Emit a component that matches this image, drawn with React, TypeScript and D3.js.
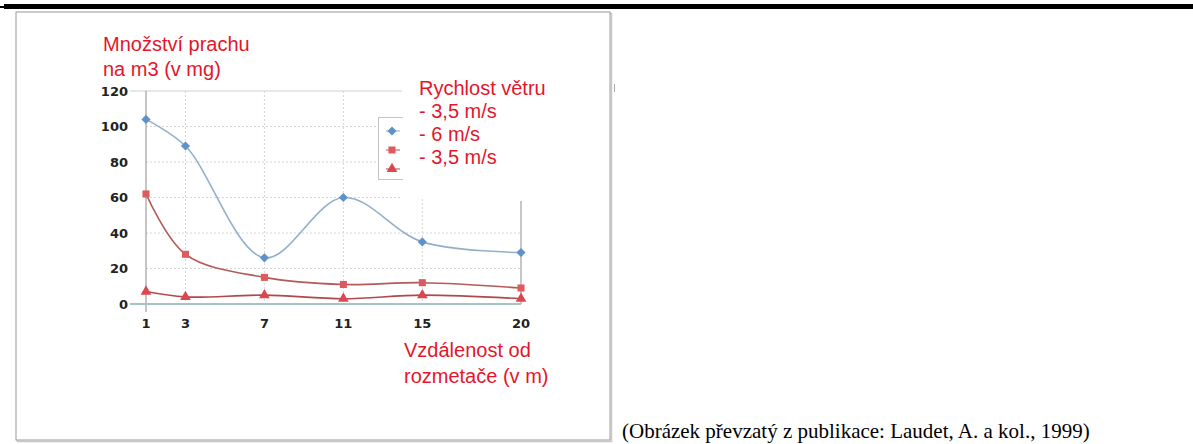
import React from 'react';
import * as d3 from 'd3';

// distances from the spreader (m) and dust amount (mg per m3)
const distances = [1, 3, 7, 11, 15, 20];
const dustBlue = [104, 89, 26, 60, 35, 29];
const dustSquare = [62, 28, 15, 11, 12, 9];
const dustTriangle = [7, 4, 5, 3, 5, 3];
const yTicks = [0, 20, 40, 60, 80, 100, 120];
const legendLines = ['Rychlost větru', '- 3,5 m/s', '- 6 m/s', '- 3,5 m/s'];
const yTitle = ['Množství prachu', 'na m3 (v mg)'];
const xTitle = ['Vzdálenost od', 'rozmetače (v m)'];
const caption = '(Obrázek převzatý z publikace: Laudet, A. a kol., 1999)';

const RED = '#e3162b';
const FONT = '"Liberation Sans", Arial, sans-serif';
const TICK_FONT = '"DejaVu Sans", Verdana, sans-serif';

function App() {
  const x = d3.scaleLinear().domain([1, 20]).range([146, 521]);
  const y = d3.scaleLinear().domain([0, 120]).range([304, 91]);

  const line = d3
    .line<number>()
    .x((_, i) => x(distances[i]))
    .y((d) => y(d))
    .curve(d3.curveCatmullRom.alpha(0.5));

  // diamond = square turned by 45 degrees
  const diamond = d3.symbol(d3.symbolSquare, 42)();
  const square = d3.symbol(d3.symbolSquare, 50)();
  const triangle = d3.symbol(d3.symbolTriangle, 50)();

  const series = [
    { values: dustBlue, stroke: '#93afcc', fill: '#5f92c8', shape: diamond, rot: 45 },
    { values: dustSquare, stroke: '#b45a58', fill: '#dd5a5e', shape: square, rot: 0 },
    { values: dustTriangle, stroke: '#b2484c', fill: '#dc4650', shape: triangle, rot: 0 },
  ];

  return (
    <svg width={1193} height={444} style={{ position: 'absolute', left: 0, top: 0, background: '#fff' }}>
      {/* page rule */}
      <rect x={4} y={4} width={1189} height={5} fill="#000" />
      <rect x={0} y={6} width={4} height={2} fill="#000" />

      {/* picture frame */}
      <rect x={17.5} y={13.5} width={594} height={428} fill="none" stroke="#c8c8c8" strokeWidth={1.5} />
      <rect x={16} y={12} width={594} height={428} fill="#fff" stroke="#9a9a9a" strokeWidth={1} />
      <line x1={614.5} x2={614.5} y1={84} y2={92} stroke="#aaa" />

      {/* grid */}
      {yTicks.slice(1, -1).map((t) => (
        <line key={'gy' + t} x1={x(1)} x2={t >= 60 ? 402 : x(20)} y1={y(t)} y2={y(t)}
          stroke="#d6d6d6" strokeDasharray="2,2" />
      ))}
      <line x1={130} x2={402} y1={y(120)} y2={y(120)} stroke="#cfcfcf" />
      {distances.slice(1, -1).map((d) => (
        <line key={'gx' + d} x1={x(d)} x2={x(d)} y1={y(120)} y2={y(0)}
          stroke="#d6d6d6" strokeDasharray="2,2" />
      ))}
      <line x1={x(20)} x2={x(20)} y1={201} y2={y(0)} stroke="#8c8c8c" />
      <line x1={x(1)} x2={x(1)} y1={y(120)} y2={312} stroke="#8c8c8c" />
      <line x1={130} x2={x(20)} y1={y(0)} y2={y(0)} stroke="#a9c3c3" strokeWidth={2} />

      {/* y tick labels */}
      {yTicks.map((t) => (
        <text key={'ty' + t} x={128} y={y(t)} dy="0.36em" textAnchor="end"
          fontFamily={TICK_FONT} fontWeight="bold" fontSize={13} fill="#222">{t}</text>
      ))}
      {/* x tick labels */}
      {distances.map((d) => (
        <text key={'tx' + d} x={x(d)} y={328} textAnchor="middle"
          fontFamily={TICK_FONT} fontWeight="bold" fontSize={13} fill="#222">{d}</text>
      ))}

      {/* legend box */}
      <rect x={378.5} y={117.5} width={40} height={62} fill="#fff" stroke="#c4c4c4" />
      {series.map((s, i) => (
        <g key={'lg' + i} transform={`translate(392,${131 + i * 19})`}>
          <line x1={-6} x2={8} stroke={s.stroke} strokeWidth={1} />
          <path d={s.shape} transform={`rotate(${s.rot})`} fill={s.fill} />
        </g>
      ))}
      <rect x={403} y={70} width={160} height={128} fill="#fff" />

      {/* series */}
      {series.map((s, i) => (
        <g key={'s' + i}>
          <path d={line(s.values) ?? ''} fill="none" stroke={s.stroke} strokeWidth={1.6} />
          {s.values.map((v, j) => (
            <path key={j} d={s.shape}
              transform={`translate(${x(distances[j])},${y(v)}) rotate(${s.rot})`} fill={s.fill} />
          ))}
        </g>
      ))}

      {/* red titles */}
      {yTitle.map((t, i) => (
        <text key={'yt' + i} x={103} y={51 + i * 25} fontFamily={FONT} fontSize={20} fill={RED}>{t}</text>
      ))}
      {legendLines.map((t, i) => (
        <text key={'lt' + i} x={419} y={95 + i * 23} fontFamily={FONT} fontSize={20} fill={RED}>{t}</text>
      ))}
      {xTitle.map((t, i) => (
        <text key={'xt' + i} x={404} y={357 + i * 26} fontFamily={FONT} fontSize={20} fill={RED}>{t}</text>
      ))}

      {/* caption */}
      <text x={622} y={438} fontFamily='"Liberation Serif", "Times New Roman", serif' fontSize={21} fill="#000">{caption}</text>
    </svg>
  );
}

export default App;
